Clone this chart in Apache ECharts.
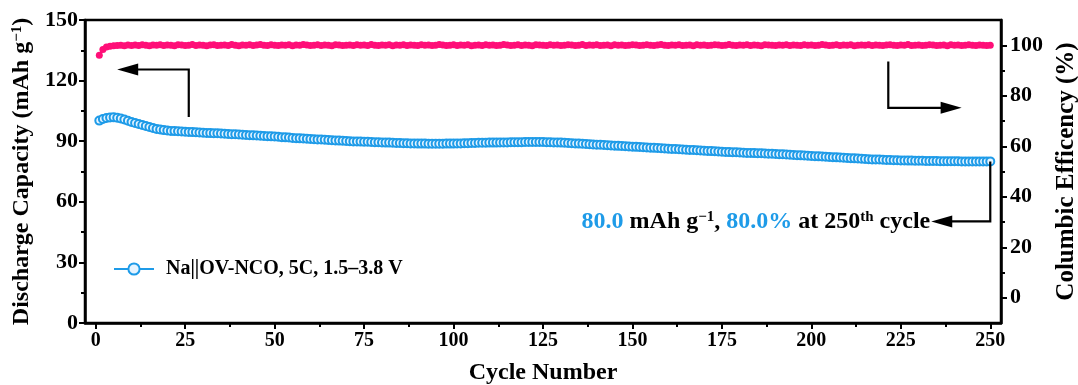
<!DOCTYPE html>
<html>
<head>
<meta charset="utf-8">
<script src="https://cdn.jsdelivr.net/npm/echarts@6/dist/echarts.min.js"></script>
<style>
  html, body { margin: 0; padding: 0; background: #fff; }
  #chart { width: 1078px; height: 385px; }
</style>
</head>
<body>
<div id="chart"></div>
<script>
// cycle numbers 1..250
const cycles = [];
for (let i = 1; i <= 250; i++) cycles.push(i);

// discharge capacity (mAh g-1)
const capacity = [
  100.2, 101.0, 101.5, 101.7, 101.8, 101.6, 101.2, 100.7, 100.1, 99.5,
  99.0, 98.5, 98.0, 97.5, 97.0, 96.5, 96.1, 95.8, 95.5, 95.3,
  95.1, 95.0, 94.9, 94.8, 94.7, 94.6, 94.5, 94.4, 94.3, 94.2,
  94.1, 94.0, 93.9, 93.9, 93.8, 93.7, 93.6, 93.5, 93.4, 93.3,
  93.2, 93.1, 93.0, 92.9, 92.8, 92.7, 92.6, 92.5, 92.4, 92.3,
  92.2, 92.0, 91.9, 91.8, 91.6, 91.5, 91.4, 91.3, 91.2, 91.1,
  91.0, 90.9, 90.8, 90.7, 90.6, 90.5, 90.4, 90.3, 90.2, 90.1,
  90.0, 89.9, 89.9, 89.8, 89.7, 89.7, 89.6, 89.5, 89.5, 89.4,
  89.3, 89.3, 89.2, 89.1, 89.1, 89.0, 89.0, 88.9, 88.9, 88.8,
  88.8, 88.8, 88.7, 88.7, 88.7, 88.7, 88.7, 88.8, 88.8, 88.8,
  88.9, 88.9, 89.0, 89.0, 89.1, 89.1, 89.2, 89.2, 89.2, 89.3,
  89.3, 89.3, 89.4, 89.4, 89.4, 89.5, 89.5, 89.5, 89.5, 89.6,
  89.6, 89.6, 89.6, 89.6, 89.6, 89.5, 89.5, 89.4, 89.4, 89.3,
  89.2, 89.1, 89.0, 88.9, 88.8, 88.7, 88.6, 88.5, 88.4, 88.3,
  88.2, 88.1, 88.0, 87.9, 87.8, 87.7, 87.6, 87.5, 87.4, 87.3,
  87.2, 87.1, 87.0, 86.9, 86.8, 86.7, 86.6, 86.5, 86.4, 86.3,
  86.2, 86.1, 86.0, 85.9, 85.8, 85.7, 85.6, 85.5, 85.4, 85.3,
  85.2, 85.1, 85.0, 84.9, 84.8, 84.7, 84.6, 84.5, 84.5, 84.4,
  84.3, 84.2, 84.2, 84.1, 84.0, 84.0, 83.9, 83.8, 83.8, 83.7,
  83.6, 83.5, 83.4, 83.3, 83.2, 83.1, 83.0, 82.9, 82.8, 82.7,
  82.6, 82.5, 82.4, 82.3, 82.2, 82.1, 82.0, 81.9, 81.8, 81.7,
  81.6, 81.5, 81.4, 81.3, 81.2, 81.1, 81.0, 81.0, 80.9, 80.8,
  80.7, 80.7, 80.6, 80.6, 80.5, 80.5, 80.4, 80.4, 80.3, 80.3,
  80.3, 80.2, 80.2, 80.2, 80.2, 80.1, 80.1, 80.1, 80.1, 80.1,
  80.1, 80.0, 80.0, 80.0, 80.0, 80.0, 80.0, 80.0, 80.0, 80.0
];

// columbic efficiency (%)
const efficiency = [
  96.0, 98.3, 99.3, 99.6, 99.8, 99.9, 100.0, 99.8, 100.1, 99.9,
  100.1, 99.9, 100.2, 100.0, 99.8, 100.1, 100.0, 100.2, 99.9, 100.1,
  100.0, 99.8, 100.2, 100.1, 99.9, 100.0, 100.3, 99.9, 100.1, 100.0,
  99.8, 100.1, 100.2, 99.9, 100.0, 100.1, 99.9, 100.3, 100.0, 99.8,
  100.1, 100.0, 100.2, 99.9, 100.1, 100.3, 100.0, 99.9, 100.2, 100.0,
  99.9, 100.1, 100.0, 100.2, 99.8, 100.1, 100.0, 100.3, 100.1, 99.9,
  100.0, 100.2, 99.9, 100.1, 100.0, 99.8, 100.2, 100.1, 99.9, 100.0,
  100.1, 99.9, 100.2, 100.0, 100.1, 99.9, 100.3, 100.0, 99.9, 100.1,
  100.0, 100.2, 99.8, 100.1, 100.0, 100.2, 99.9, 100.1, 100.0, 99.9,
  100.2, 100.0, 100.1, 99.9, 100.0, 100.3, 100.1, 99.9, 100.0, 100.2,
  99.9, 100.1, 100.0, 100.2, 99.8, 100.0, 100.1, 99.9, 100.2, 100.0,
  100.1, 99.9, 100.0, 100.3, 100.1, 99.9, 100.0, 100.2, 99.9, 100.1,
  100.0, 99.8, 100.2, 100.1, 100.0, 99.9, 100.2, 100.0, 100.1, 99.9,
  100.0, 100.2, 100.1, 99.9, 100.0, 100.3, 99.9, 100.1, 100.0, 100.2,
  99.9, 100.0, 100.1, 99.8, 100.2, 100.0, 100.1, 99.9, 100.0, 100.2,
  100.1, 99.9, 100.0, 100.2, 100.0, 99.9, 100.1, 100.3, 100.0, 99.9,
  100.1, 100.0, 100.2, 99.9, 100.0, 100.1, 99.8, 100.2, 100.0, 100.1,
  99.9, 100.0, 100.2, 100.1, 99.9, 100.0, 100.3, 100.0, 99.9, 100.1,
  100.0, 100.2, 99.9, 100.1, 100.0, 99.8, 100.2, 100.1, 100.0, 99.9,
  100.1, 100.0, 100.2, 99.9, 100.1, 100.0, 99.9, 100.2, 100.0, 100.1,
  99.9, 100.0, 100.3, 100.1, 99.9, 100.0, 100.2, 99.9, 100.1, 100.0,
  100.2, 99.8, 100.0, 100.1, 100.0, 100.2, 99.9, 100.1, 100.0, 99.9,
  100.1, 100.2, 100.0, 99.9, 100.1, 100.0, 100.3, 99.9, 100.0, 100.1,
  99.9, 100.0, 100.2, 100.1, 99.9, 100.0, 100.1, 99.8, 100.2, 100.0,
  100.1, 99.9, 100.0, 100.2, 100.0, 99.9, 100.1, 100.0, 99.9, 100.0
];

const xTicks = [0, 25, 50, 75, 100, 125, 150, 175, 200, 225, 250];
const xMinorTicks = [12.5, 37.5, 62.5, 87.5, 112.5, 137.5, 162.5, 187.5, 212.5, 237.5];
const ceTicks = [0, 20, 40, 60, 80, 100];
const ceMinorTicks = [10, 30, 50, 70, 90];

// arrow paths in data coords (cycle, capacity)
const arrowToLeft = [[26, 102], [26, 125.5], [6, 125.5]];
const arrowToRight = [[221.5, 129.5], [221.5, 106.5], [242, 106.5]];
const arrowNote = [[250, 80], [250, 50.3], [233.5, 50.3]];

const BLUE = '#1e9be8';
const PINK = '#ff0f78';
const FONT = 'Liberation Serif';

const chart = echarts.init(document.getElementById('chart'));

const supRich = {
  s: { fontSize: 15, fontWeight: 'bold', fontFamily: FONT, verticalAlign: 'top', color: '#000' }
};

const option = {
  animation: false,
  textStyle: { fontFamily: FONT, fontWeight: 'bold', color: '#000' },
  grid: {
    left: 85, right: 77, top: 20, bottom: 62,
    containLabel: false, outerBoundsMode: 'none',
    show: true, borderColor: '#000', borderWidth: 2.5
  },
  legend: {
    left: 108, top: 254,
    itemWidth: 40, itemHeight: 14, itemGap: 10,
    textStyle: { fontFamily: FONT, fontWeight: 'bold', fontSize: 20, color: '#000', padding: [0, 0, 0, 7] },
    data: ['Na||OV-NCO, 5C, 1.5–3.8 V']
  },
  xAxis: [
    {
      type: 'value', min: -3, max: 253,
      name: 'Cycle Number', nameLocation: 'middle', nameGap: 38,
      nameTextStyle: { fontSize: 24, fontWeight: 'bold', fontFamily: FONT },
      splitLine: { show: false },
      axisLine: { onZero: false, lineStyle: { color: '#000', width: 2.5 } },
      axisTick: { customValues: xTicks, length: 6, lineStyle: { width: 2, color: '#000' } },
      axisLabel: { customValues: xTicks, fontSize: 20, fontWeight: 'bold', fontFamily: FONT, color: '#000', margin: 8 }
    },
    {
      type: 'value', min: -3, max: 253, position: 'bottom',
      splitLine: { show: false },
      axisLine: { show: false, onZero: false },
      axisTick: { customValues: xMinorTicks, length: 4, lineStyle: { width: 2, color: '#000' } },
      axisLabel: { show: false }
    }
  ],
  yAxis: [
    {
      type: 'value', min: 0, max: 150, interval: 30,
      name: 'Discharge Capacity (mAh g{s|−1})', nameLocation: 'middle', nameGap: 47,
      nameTextStyle: { fontSize: 24, fontWeight: 'bold', fontFamily: FONT, rich: supRich },
      splitLine: { show: false },
      axisLine: { onZero: false, lineStyle: { color: '#000', width: 2.5 } },
      axisTick: { length: 6, lineStyle: { width: 2, color: '#000' } },
      minorTick: { show: true, splitNumber: 2, length: 4, lineStyle: { width: 2, color: '#000' } },
      axisLabel: { fontSize: 22, fontWeight: 'bold', fontFamily: FONT, color: '#000', margin: 7 }
    },
    {
      type: 'value', min: -10, max: 110, position: 'right',
      name: 'Columbic Efficency (%)', nameLocation: 'middle', nameGap: 50,
      nameTextStyle: { fontSize: 25, fontWeight: 'bold', fontFamily: FONT },
      splitLine: { show: false },
      axisLine: { onZero: false, lineStyle: { color: '#000', width: 2.5 } },
      axisTick: { customValues: ceTicks, length: 6, lineStyle: { width: 2, color: '#000' } },
      axisLabel: { customValues: ceTicks, fontSize: 22, fontWeight: 'bold', fontFamily: FONT, color: '#000', margin: 9 }
    },
    {
      type: 'value', min: -10, max: 110, position: 'right',
      splitLine: { show: false },
      axisLine: { show: false, onZero: false },
      axisTick: { customValues: ceMinorTicks, length: 4, lineStyle: { width: 2, color: '#000' } },
      axisLabel: { show: false }
    }
  ],
  series: [
    {
      name: 'Na||OV-NCO, 5C, 1.5–3.8 V',
      type: 'line',
      xAxisIndex: 0, yAxisIndex: 0,
      data: cycles.map((c, i) => [c, capacity[i]]),
      symbol: 'circle', symbolSize: 8,
      itemStyle: { color: '#e6f4ff', borderColor: BLUE, borderWidth: 2 },
      lineStyle: { color: BLUE, width: 2 },
      z: 3
    },
    {
      name: 'CE',
      type: 'line',
      xAxisIndex: 0, yAxisIndex: 1,
      data: cycles.map((c, i) => [c, efficiency[i]]),
      symbol: 'circle', symbolSize: 7,
      itemStyle: { color: PINK },
      lineStyle: { color: PINK, width: 2 },
      z: 3
    }
  ]
};

chart.setOption(option);

function toPx(pts) {
  return pts.map((p) => chart.convertToPixel({ xAxisIndex: 0, yAxisIndex: 0 }, p));
}

function arrow(pts) {
  const px = toPx(pts);
  const a = px[px.length - 2];
  const b = px[px.length - 1];
  const dir = b[0] - a[0] >= 0 ? 1 : -1;
  const headLen = 21;
  const headHalf = 6;
  const shaft = px.slice(0, -1).concat([[b[0] - dir * (headLen - 2), b[1]]]);
  return [
    { type: 'polyline', shape: { points: shaft }, style: { stroke: '#000', lineWidth: 2.2, fill: null }, z: 10 },
    {
      type: 'polygon',
      shape: { points: [[b[0], b[1]], [b[0] - dir * headLen, b[1] - headHalf], [b[0] - dir * headLen, b[1] + headHalf]] },
      style: { fill: '#000' }, z: 10
    }
  ];
}

const notePx = toPx([arrowNote[2]])[0];

chart.setOption({
  graphic: [
    ...arrow(arrowToLeft),
    ...arrow(arrowToRight),
    ...arrow(arrowNote),
    {
      type: 'text',
      x: notePx[0] - 1, y: notePx[1],
      style: {
        text: '{b|80.0} mAh g{s|−1}, {b|80.0%} at 250{s|th} cycle',
        align: 'right', verticalAlign: 'middle',
        font: 'bold 24px "Liberation Serif"',
        fill: '#000',
        rich: {
          b: { fontSize: 24, fontWeight: 'bold', fontFamily: FONT, fill: BLUE, color: BLUE },
          s: { fontSize: 15, fontWeight: 'bold', fontFamily: FONT, verticalAlign: 'top', fill: '#000', color: '#000' }
        }
      },
      z: 10
    }
  ]
});
</script>
</body>
</html>
